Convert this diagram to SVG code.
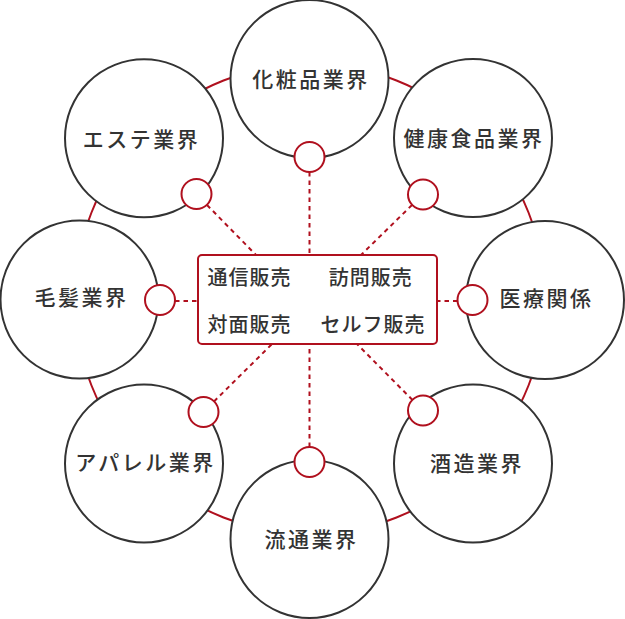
<svg xmlns="http://www.w3.org/2000/svg" width="625" height="619" viewBox="0 0 625 619">
<style>
.ring{fill:none;stroke:#b0101e;stroke-width:2}
.big{fill:#fff;stroke:#333;stroke-width:2}
.small{fill:#fff;stroke:#b0101e;stroke-width:2}
.dash{fill:none;stroke:#b0101e;stroke-width:2;stroke-dasharray:4.5 4}
.box{fill:#fff;stroke:#b0101e;stroke-width:2}
.lbl{font-family:"Noto Sans CJK JP","Noto Sans",sans-serif;font-size:21px;font-weight:500;fill:#333;letter-spacing:2.5px;text-anchor:middle}
.blbl{font-family:"Noto Sans CJK JP","Noto Sans",sans-serif;font-size:20px;font-weight:500;fill:#333;letter-spacing:1px;text-anchor:middle}
</style>
<circle class="ring" cx="310" cy="299" r="235"/>
<g id="connectors">
<line class="dash" x1="309.5" y1="172" x2="309.5" y2="255"/>
<line class="dash" x1="309.5" y1="447" x2="309.5" y2="344"/>
<line class="dash" x1="175" y1="301" x2="198" y2="301"/>
<line class="dash" x1="457.5" y1="301" x2="437" y2="301"/>
<line class="dash" x1="207" y1="205" x2="256" y2="255"/>
<line class="dash" x1="412" y1="205" x2="361" y2="255"/>
<line class="dash" x1="214" y1="401.5" x2="272" y2="344"/>
<line class="dash" x1="412.5" y1="400" x2="357" y2="344"/>
</g>
<g id="n-cosmetics"><circle class="big" cx="309.5" cy="79" r="79"/><text class="lbl" x="311" y="87">化粧品業界</text></g>
<g id="n-health"><circle class="big" cx="473" cy="138" r="79"/><text class="lbl" x="474" y="146">健康食品業界</text></g>
<g id="n-medical"><circle class="big" cx="545" cy="300" r="79"/><text class="lbl" x="546.5" y="305.5">医療関係</text></g>
<g id="n-sake"><circle class="big" cx="473" cy="463.5" r="79"/><text class="lbl" x="477" y="470.5">酒造業界</text></g>
<g id="n-retail"><circle class="big" cx="309.5" cy="539" r="79"/><text class="lbl" x="311.5" y="546.5">流通業界</text></g>
<g id="n-apparel"><circle class="big" cx="144" cy="463.5" r="79"/><text class="lbl" x="145.5" y="470">アパレル業界</text></g>
<g id="n-hair"><circle class="big" cx="79.5" cy="299.5" r="79"/><text class="lbl" x="81.5" y="305">毛髪業界</text></g>
<g id="n-esthe"><circle class="big" cx="144" cy="138.3" r="79"/><text class="lbl" x="141.5" y="147">エステ業界</text></g>
<g id="s1"><circle class="small" cx="309.5" cy="157" r="15"/></g>
<g id="s2"><circle class="small" cx="423" cy="194.5" r="15"/></g>
<g id="s3"><circle class="small" cx="472.5" cy="300" r="15"/></g>
<g id="s4"><circle class="small" cx="423" cy="410.5" r="15"/></g>
<g id="s5"><circle class="small" cx="309.5" cy="462" r="15"/></g>
<g id="s6"><circle class="small" cx="203.5" cy="412" r="15"/></g>
<g id="s7"><circle class="small" cx="160" cy="300" r="15"/></g>
<g id="s8"><circle class="small" cx="196.5" cy="194" r="15"/></g>
<g id="center-box">
<rect class="box" x="198" y="255" width="239" height="89" rx="4"/>
<text class="blbl" x="249.5" y="284.5">通信販売</text>
<text class="blbl" x="370.8" y="284.5">訪問販売</text>
<text class="blbl" x="249.5" y="331.8">対面販売</text>
<text class="blbl" x="373" y="331.8">セルフ販売</text>
</g>
</svg>
